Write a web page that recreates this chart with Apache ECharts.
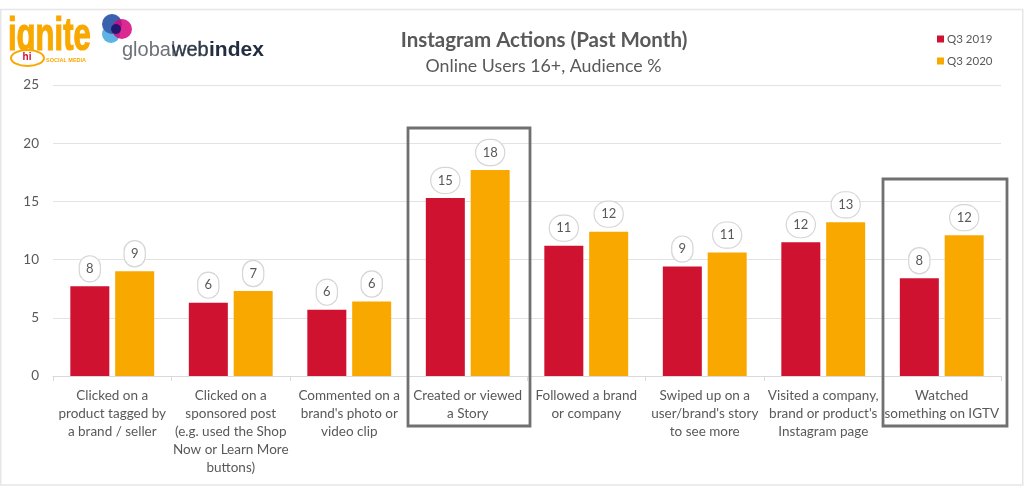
<!DOCTYPE html>
<html><head><meta charset="utf-8">
<style>html,body{margin:0;padding:0;background:#fff}#c{width:1024px;height:486px}</style>
<script src="https://cdn.jsdelivr.net/npm/echarts@6/dist/echarts.min.js"></script></head>
<body><div id="c"></div>
<script>
const categories = [
 "Clicked on a\nproduct tagged by\na brand / seller",
 "Clicked on a\nsponsored post\n(e.g. used the Shop\nNow or Learn More\nbuttons)",
 "Commented on a\nbrand's photo or\nvideo clip",
 "Created or viewed\na Story",
 "Followed a brand\nor company",
 "Swiped up on a\nuser/brand's story\nto see more",
 "Visited a company,\nbrand or product's\nInstagram page",
 "Watched\nsomething on IGTV"
];
const q32019 = [7.7, 6.3, 5.7, 15.3, 11.2, 9.4, 11.5, 8.4];
const q32020 = [9.0, 7.3, 6.4, 17.7, 12.4, 10.6, 13.2, 12.1];
const RED = "#CE1230", AMBER = "#F9A800", TXT = "#595959";
const FONT = "Lato";
const lab = {
  show:true, position:"top", distance:5, formatter:p=>Math.round(p.value),
  height:25, lineHeight:25, align:"center",
  borderRadius:13, borderWidth:1.2, borderColor:"#D6D6D6", backgroundColor:"#fff",
  color:TXT, fontFamily:FONT, fontSize:13
};
const points = vals => vals.map(v => ({
  value:v,
  label:{width: Math.round(v) < 10 ? 20 : 28}
}));
const chart = echarts.init(document.getElementById("c"), null, {renderer:"canvas"});
chart.setOption({
  animation:false,
  textStyle:{fontFamily:FONT},
  grid:{left:53, right:23, top:85, bottom:110, containLabel:false},
  legend:{
    orient:"vertical", left:932, top:27, itemWidth:7, itemHeight:7, itemGap:8,
    icon:"rect", textStyle:{color:TXT, fontFamily:FONT, fontSize:11.5, padding:[0,0,0,-2], lineHeight:14},
    itemStyle:{borderWidth:0}, data:["Q3 2019","Q3 2020"]
  },
  title:[
    {text:"Instagram Actions (Past Month)", left:539, top:25, textAlign:"center",
     textStyle:{color:"#595959", fontFamily:FONT, fontSize:20.5, fontWeight:"bold"}},
    {text:"Online Users 16+, Audience %", left:538.5, top:52, textAlign:"center",
     textStyle:{color:"#595959", fontFamily:FONT, fontSize:17.8, fontWeight:"normal"}}
  ],
  xAxis:{type:"category", data:categories,
    axisLine:{lineStyle:{color:"#D9D9D9"}}, axisTick:{show:true, length:5, lineStyle:{color:"#D9D9D9"}},
    axisLabel:{color:TXT, fontFamily:FONT, fontSize:13.5, lineHeight:18, margin:11, interval:0}},
  yAxis:{type:"value", min:0, max:25, interval:5,
    axisLine:{show:false}, axisTick:{show:false},
    splitLine:{lineStyle:{color:"#E3E3E3", width:1}},
    axisLabel:{color:TXT, fontFamily:FONT, fontSize:13.5, margin:14}},
  series:[
    {name:"Q3 2019", type:"bar", data:points(q32019), barWidth:39, barGap:"15%", itemStyle:{color:RED}, label:lab},
    {name:"Q3 2020", type:"bar", data:points(q32020), barWidth:39, itemStyle:{color:AMBER}, label:lab}
  ],
  graphic:[
    {type:"rect", z:0, silent:true, shape:{x:0.75,y:9.5,width:1022,height:475.5}, style:{fill:"none", stroke:"#E6E6E6", lineWidth:1.5}},
    {type:"rect", z:20, silent:true, shape:{x:408,y:128,width:122,height:298}, style:{fill:"none", stroke:"#707070", lineWidth:2.8}},
    {type:"rect", z:20, silent:true, shape:{x:883,y:179,width:124,height:247}, style:{fill:"none", stroke:"#707070", lineWidth:2.8}},
    {type:"text", z:20, x:8, y:14, scaleX:0.66, scaleY:1, style:{text:"ignite", fill:"#F9A800", stroke:"#F9A800", lineWidth:1.2, fontFamily:"Liberation Sans Narrow, Liberation Sans", fontWeight:"bold", fontSize:47}},
    {type:"ellipse", z:21, shape:{cx:27.5,cy:58,rx:16.5,ry:8}, style:{fill:"#fff", stroke:"#F9A800", lineWidth:2}},
    {type:"text", z:22, x:27, y:57.5, style:{text:"hi", fill:"#CE1230", fontFamily:"Liberation Sans", fontWeight:"bold", fontSize:10, align:"center", verticalAlign:"middle"}},
    {type:"text", z:20, x:46, y:60, style:{text:"SOCIAL MEDIA", fill:"#F9A800", fontFamily:"Liberation Sans", fontWeight:"bold", fontSize:5.5, verticalAlign:"middle"}},
    {type:"circle", z:20, shape:{cx:111,cy:34,r:9}, style:{fill:"#5DB3E3"}},
    {type:"circle", z:21, shape:{cx:112,cy:24,r:10}, style:{fill:"#3A62AE"}},
    {type:"circle", z:22, shape:{cx:122,cy:29,r:10}, style:{fill:"#D5067F", opacity:0.85}},
    {type:"circle", z:23, shape:{cx:116,cy:29,r:5}, style:{fill:"#13186E", opacity:0.9}},
    {type:"text", z:20, x:122, y:50, style:{text:"global", fill:"#6C7278", fontFamily:"Liberation Sans", fontSize:20, verticalAlign:"middle"}},
    {type:"text", z:20, x:172, y:50, style:{text:"web", fill:"#2E3A4A", stroke:"#2E3A4A", lineWidth:0.4, fontFamily:"Liberation Sans", fontSize:20, verticalAlign:"middle"}},
    {type:"text", z:20, x:209, y:50, style:{text:"index", fill:"#222E40", fontFamily:"Liberation Sans", fontWeight:"bold", fontSize:21, verticalAlign:"middle"}}
  ]
});
</script></body></html>
